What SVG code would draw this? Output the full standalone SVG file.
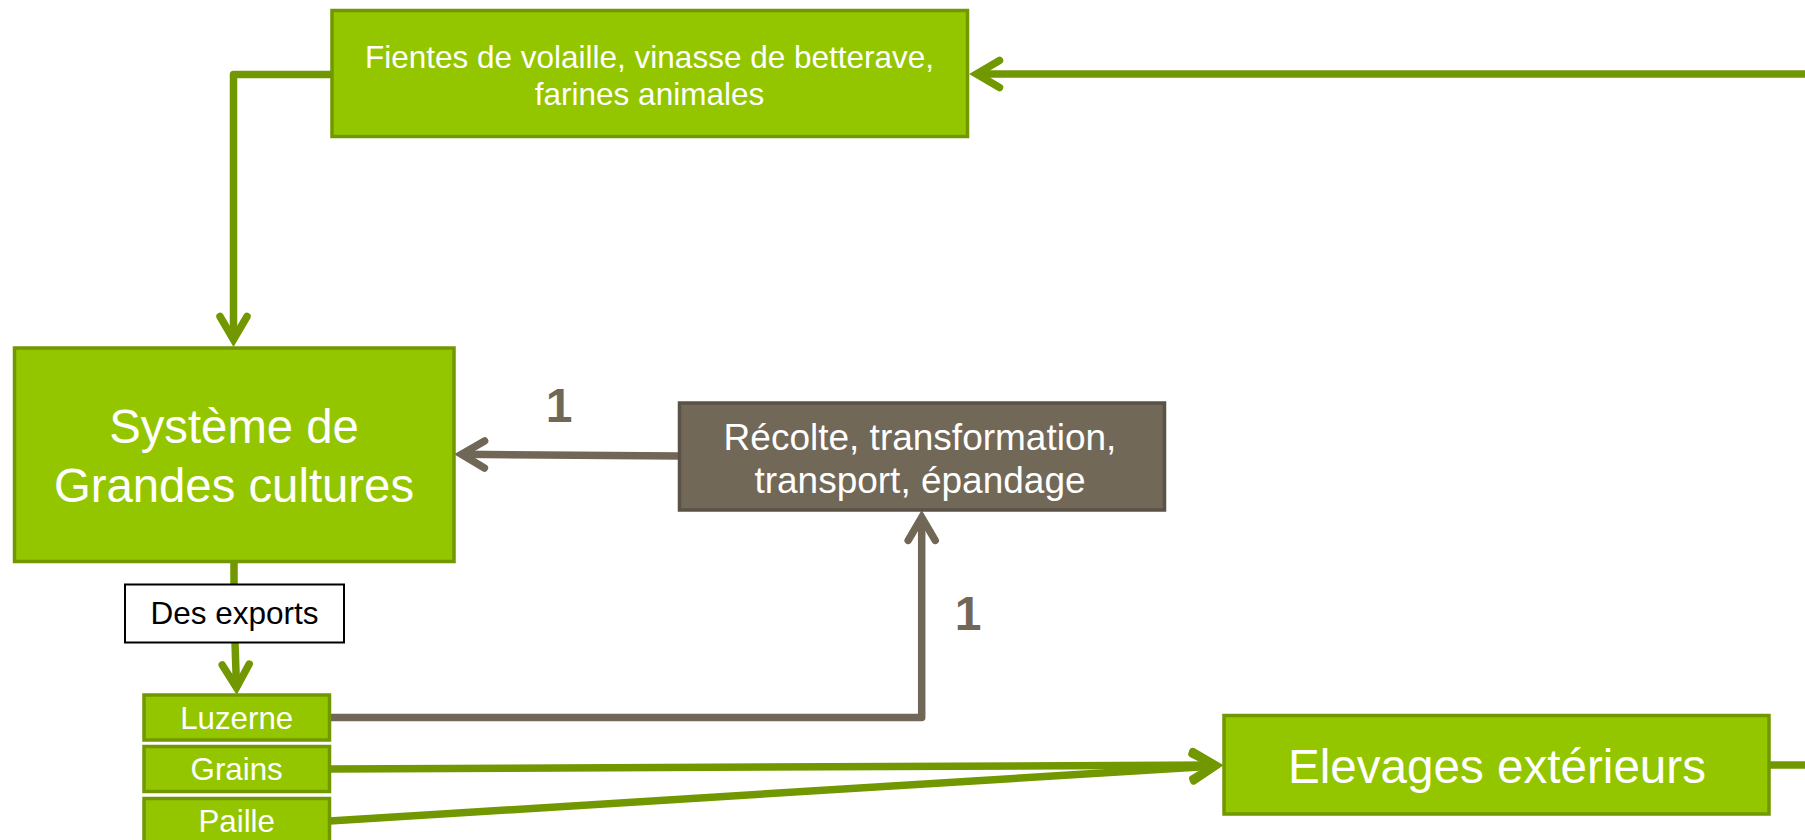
<svg xmlns="http://www.w3.org/2000/svg" width="1805" height="840" viewBox="0 0 1805 840">
<style>
.gbox{fill:#94c600;stroke:#719800;stroke-width:3.5}
.bbox{fill:#726858;stroke:#5a5246;stroke-width:3.5}
.wbox{fill:#ffffff;stroke:#000000;stroke-width:2}
.t{font-family:"Liberation Sans",Arial,sans-serif;fill:#ffffff;text-anchor:middle}
.tb{font-family:"Liberation Sans",Arial,sans-serif;fill:#000000;text-anchor:middle}
.num{font-family:"Liberation Sans",Arial,sans-serif;font-weight:bold;fill:#716757;text-anchor:middle;font-size:48px}
.cg{fill:none;stroke:#719800;stroke-width:7.5;stroke-linejoin:round}
.cb{fill:none;stroke:#716757;stroke-width:7.5;stroke-linejoin:round}
</style>
<defs>
<marker id="ag" markerUnits="userSpaceOnUse" orient="auto" overflow="visible" markerWidth="1" markerHeight="1" refX="0" refY="0">
<path d="M-23,-13.5 L0,0 L-23,13.5" fill="none" stroke="#719800" stroke-width="7.5" stroke-linecap="round" stroke-linejoin="miter"/>
</marker>
<marker id="ab" markerUnits="userSpaceOnUse" orient="auto" overflow="visible" markerWidth="1" markerHeight="1" refX="0" refY="0">
<path d="M-23,-13.5 L0,0 L-23,13.5" fill="none" stroke="#716757" stroke-width="7.5" stroke-linecap="round" stroke-linejoin="miter"/>
</marker>
</defs>
<g id="connectors">
<path class="cg" d="M1805,74 H976.5" marker-end="url(#ag)"/>
<path class="cg" d="M332,74.5 H233.5 V339.5" marker-end="url(#ag)"/>
<path class="cb" d="M679.5,456 L461.5,454.3" marker-end="url(#ab)"/>
<path class="cg" d="M234,561.5 V584.5"/>
<path class="cg" d="M235,642.5 L236.5,687.5" marker-end="url(#ag)"/>
<path class="cb" d="M329.5,717.5 H921.7 V517.4" marker-end="url(#ab)"/>
<path class="cg" d="M329.5,769 L1215.8,765" marker-end="url(#ag)"/>
<path class="cg" d="M329.5,821 L1215.8,765.9" marker-end="url(#ag)"/>
<path class="cg" d="M1769,765 H1805"/>
</g>
<g id="label-1a"><text class="num" x="559" y="421.7">1</text></g>
<g id="label-1b"><text class="num" x="968" y="630">1</text></g>
<g id="node-fientes">
<rect class="gbox" x="332" y="10.5" width="635.5" height="126"/>
<text class="t" font-size="31.5" x="649.5" y="68">Fientes de volaille, vinasse de betterave,</text>
<text class="t" font-size="31.5" x="649.5" y="105">farines animales</text>
</g>
<g id="node-systeme">
<rect class="gbox" x="14.5" y="348" width="439.5" height="213.5"/>
<text class="t" font-size="47.3" x="234" y="443.3">Système de</text>
<text class="t" font-size="47.3" x="234" y="501.7">Grandes cultures</text>
</g>
<g id="node-recolte">
<rect class="bbox" x="679.5" y="403" width="485" height="107"/>
<text class="t" font-size="37" x="920" y="450">Récolte, transformation,</text>
<text class="t" font-size="37" x="920" y="493">transport, épandage</text>
</g>
<g id="node-exports">
<rect class="wbox" x="125" y="584.5" width="219" height="58"/>
<text class="tb" font-size="31.5" x="234.5" y="624">Des exports</text>
</g>
<g id="node-luzerne">
<rect class="gbox" x="144" y="695" width="185.5" height="45"/>
<text class="t" font-size="31.3" x="236.7" y="729">Luzerne</text>
</g>
<g id="node-grains">
<rect class="gbox" x="144" y="746.5" width="185.5" height="45"/>
<text class="t" font-size="31.3" x="236.7" y="780">Grains</text>
</g>
<g id="node-paille">
<rect class="gbox" x="144" y="798.5" width="185.5" height="46"/>
<text class="t" font-size="31.3" x="236.7" y="831.7">Paille</text>
</g>
<g id="node-elevages">
<rect class="gbox" x="1224" y="715.5" width="545" height="98.5"/>
<text class="t" font-size="47.6" x="1497" y="783">Elevages extérieurs</text>
</g>
</svg>
